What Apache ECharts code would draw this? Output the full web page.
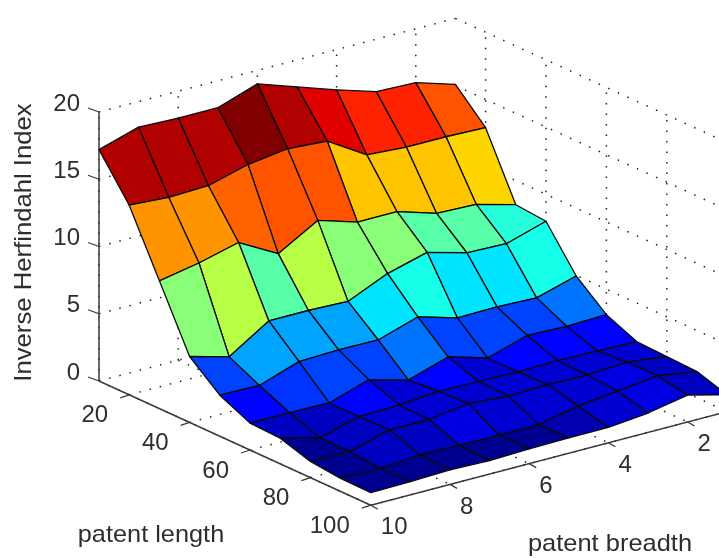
<!DOCTYPE html>
<html>
<head>
<meta charset="utf-8">
<style>html,body{margin:0;padding:0;background:#fff}#c{width:719px;height:558px}</style>
<script src="https://cdn.jsdelivr.net/npm/echarts@6/dist/echarts.min.js"></script>
</head>
<body>
<div id="c"></div>
<script>
// ---- data ----
const patentLength = [10,20,30,40,50,60,70,80,90,100];
const patentBreadth = [10,9,8,7,6,5,4,3,2,1];
const lengthTicks = [20,40,60,80,100];
const breadthTicks = [10,8,6,4,2];
const indexTicks = [0,5,10,15,20];
const zLength10  = [17.2,18.1,18.0,18.0,19.0,18.0,17.0,16.1,16.0,15.1];
const zLength20  = [14.1,13.9,14.0,14.8,15.2,15.0,13.2,13.0,13.0,12.9];
const zLength30  = [9.5,10.05,10.8,9.2,10.9,10.0,10.0,9.1,9.0,8.2];
const zLength40  = [4.9,4.1,6.0,6.0,5.9,7.2,8.0,7.2,7.1,8.0];
const zLength50  = [3.05,3.0,4.0,4.1,4.06,5.0,4.15,4.2,4.1,4.95];
const zLength60  = [2.0,2.0,1.95,2.9,2.1,3.05,2.2,3.1,3.0,3.1];
const zLength70  = [1.9,1.15,1.96,2.05,2.3,2.25,2.2,2.25,2.2,2.13];
const zLength80  = [1.2,1.16,2.0,2.0,2.4,2.2,2.28,2.2,2.4,2.03];
const zLength90  = [0.97,0.94,1.16,1.1,1.1,1.1,1.7,2.05,2.4,1.95];
const zLength100 = [0.93,0.98,1.08,1.0,1.1,1.14,1.15,1.44,2.0,1.24];
const surface = [zLength10,zLength20,zLength30,zLength40,zLength50,zLength60,zLength70,zLength80,zLength90,zLength100];
const xLabel = 'patent length', yLabel = 'patent breadth', zLabel = 'Inverse Herfindahl Index';

// ---- oblique view of the three data axes, in plot-plane units ----
const origin = [99, 381];
const perLength = [3.02, 1.38];
const perBreadth = [-39.6, 10.4];
const perIndex = -13.45;
function project(L, B, Z) {
  return [origin[0] + (L-10)*perLength[0] + (B-10)*perBreadth[0],
          origin[1] + (L-10)*perLength[1] + (B-10)*perBreadth[1] + Z*perIndex];
}
// ---- jet colormap (64 levels) ----
const zMin = 0.6, zMax = 19;
function jet(z) {
  let t = Math.min(1, Math.max(0, (z-zMin)/(zMax-zMin)));
  t = Math.min(63, Math.floor(t*64))/63;
  const f = a => Math.round(255*Math.max(0, Math.min(1, 1.5-Math.abs(4*t-a))));
  return 'rgb('+f(3)+','+f(2)+','+f(1)+')';
}
const Lmin=10,Lmax=100,Bmin=1,Bmax=10,Zmin=0,Zmax=20;
const faces = [];
for (let i=0;i<patentLength.length-1;i++)
  for (let j=patentBreadth.length-2;j>=0;j--) faces.push([i,j]);

function wallSegments(){
  const s=[];
  const add=(a,b)=>s.push([a,b]);
  lengthTicks.forEach(L=>{
    add([L,Bmax,0],[L,Bmin,0]);          // floor
    add([L,Bmin,0],[L,Bmin,Zmax]);       // right wall
  });
  breadthTicks.forEach(B=>{
    add([Lmin,B,0],[Lmax,B,0]);          // floor
    add([Lmin,B,0],[Lmin,B,Zmax]);       // left wall
  });
  indexTicks.forEach(Z=>{
    add([Lmin,Bmax,Z],[Lmin,Bmin,Z]);
    add([Lmin,Bmin,Z],[Lmax,Bmin,Z]);
  });
  return s;
}
const walls = wallSegments();
const axes = [
  [[Lmin,Bmax,0],[Lmin,Bmax,Zmax]],
  [[Lmin,Bmax,0],[Lmax,Bmax,0]],
  [[Lmax,Bmax,0],[Lmax,Bmin,0]]
];
const chart = echarts.init(document.getElementById('c'));
const ink = '#3a3a3a';
function ptFn(api){ return (p)=>api.coord(project(p[0],p[1],p[2])); }
const txt = (x,y,t,align,size,extra)=>Object.assign({type:'text',x:x,y:y,silent:true,
  style:{text:t,fill:'#2e2e2e',font:size+'px "Liberation Sans", Arial, sans-serif',textAlign:align,textVerticalAlign:'middle'}},extra||{});

const option = {
  animation:false,
  grid:{left:0,right:0,top:0,bottom:0},
  xAxis:{type:'value',min:0,max:719,show:false},
  yAxis:{type:'value',min:0,max:558,inverse:true,show:false},
  series:[
    {type:'custom',coordinateSystem:'cartesian2d',clip:true,silent:true,z:1,data:walls.map((w,k)=>[k]),
     renderItem(params,api){
       const w=walls[api.value(0)],P=ptFn(api),a=P(w[0]),b=P(w[1]);
       return {type:'line',shape:{x1:a[0],y1:a[1],x2:b[0],y2:b[1]},
         style:{stroke:'#222',lineWidth:1.5,lineDash:[1.5,9]}};
     }},
    {type:'custom',coordinateSystem:'cartesian2d',clip:true,silent:true,z:3,data:axes.map((w,k)=>[k]),
     renderItem(params,api){
       const w=axes[api.value(0)],P=ptFn(api),a=P(w[0]),b=P(w[1]);
       return {type:'line',shape:{x1:a[0],y1:a[1],x2:b[0],y2:b[1]},
         style:{stroke:ink,lineWidth:1.5}};
     }},
    {type:'custom',coordinateSystem:'cartesian2d',clip:true,silent:true,z:4,data:faces,
     renderItem(params,api){
       const i=api.value(0),j=api.value(1),P=ptFn(api);
       const V=(a,b)=>P([patentLength[a],patentBreadth[b],surface[a][b]]);
       return {type:'polygon',shape:{points:[V(i,j),V(i,j+1),V(i+1,j+1),V(i+1,j)]},
         style:{fill:jet(surface[i][j+1]),stroke:'#0a0a0a',lineWidth:1.3,lineJoin:'round'}};
     }},
    {type:'custom',coordinateSystem:'cartesian2d',clip:true,silent:true,z:5,data:[[0]],
     renderItem(params,api){
       const P=ptFn(api),c=[];
       const tick=(p,dx,dy)=>{const a=P(p);c.push({type:'line',shape:{x1:a[0],y1:a[1],x2:a[0]+dx,y2:a[1]+dy},style:{stroke:ink,lineWidth:1.3}});};
       indexTicks.forEach(Z=>{tick([Lmin,Bmax,Z],-11,-4);
         const a=P([Lmin,Bmax,Z]);c.push(txt(a[0]-19,a[1]-8,String(Z),'right',24));});
       lengthTicks.forEach(L=>{tick([L,Bmax,0],-9,3);
         const a=P([L,Bmax,0]);c.push(txt(a[0]-21,a[1]+21,String(L),'right',24));});
       breadthTicks.forEach(B=>{tick([Lmax,B,0],7,4);
         const a=P([Lmax,B,0]);c.push(txt(a[0]+10,a[1]+22.5,String(B),'left',24));});
       c.push(txt(151,535,xLabel,'center',24,{scaleX:1.055}));
       c.push(txt(610,544,yLabel,'center',24,{scaleX:1.06}));
       c.push(txt(24,242.5,zLabel,'center',24,{rotation:Math.PI/2,scaleX:1.07}));
       return {type:'group',children:c};
     }}
  ]
};
chart.setOption(option);
</script>
</body>
</html>
